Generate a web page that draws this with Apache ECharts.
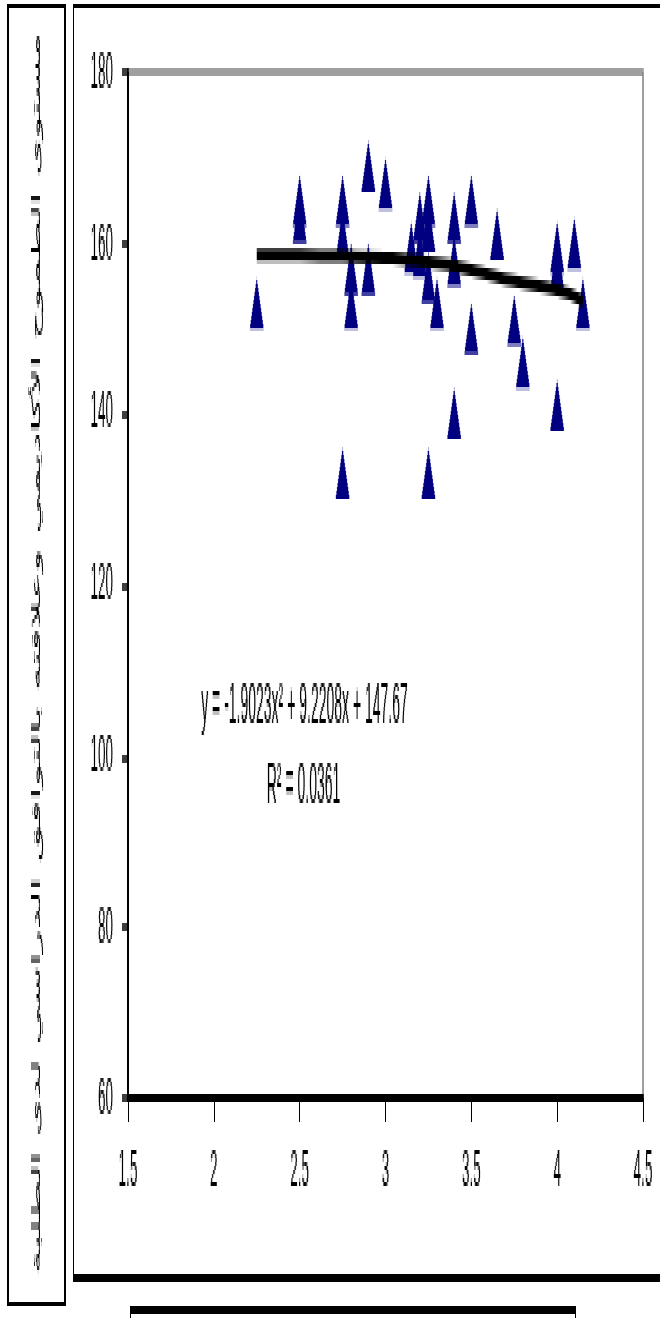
<!DOCTYPE html>
<html>
<head>
<meta charset="utf-8">
<script src="https://cdn.jsdelivr.net/npm/echarts@6/dist/echarts.min.js"></script>
<style>
  html, body { margin: 0; padding: 0; background: #fff; }
  body { width: 660px; height: 1318px; overflow: hidden; }
  #chart { width: 660px; height: 330px; transform: scaleY(3.993939); transform-origin: 0 0; }
  #chart canvas { image-rendering: pixelated; }
</style>
</head>
<body>
<div id="chart"></div>
<script>
// ---- data ----
const pointX = [2.25, 2.5, 2.5, 2.75, 2.75, 2.75, 2.8, 2.8, 2.9, 2.9, 3.0, 3.15, 3.2, 3.2, 3.25, 3.25, 3.25, 3.25, 3.3, 3.4, 3.4, 3.4, 3.5, 3.5, 3.65, 3.75, 3.8, 4.0, 4.0, 4.0, 4.1, 4.15];
const pointY = [153, 165, 163, 165, 161, 133, 157, 153, 169, 157, 167, 159.5, 163, 159, 165, 162, 156, 133, 153, 163, 158, 140, 165, 150, 161, 151, 146, 159.5, 157.5, 141, 160, 153];
const trendX = [2.25, 2.5, 2.75, 3.0, 3.25, 3.5, 3.75, 4.0, 4.15];
const trendY = [158.6, 158.6, 158.5, 158.3, 157.8, 156.9, 155.6, 154.5, 153.3];
const xTicks = [1.5, 2, 2.5, 3, 3.5, 4, 4.5];
const yTicks = [60, 80, 100, 120, 140, 160, 180];
const equationText = 'y = -1.9023x\u00B2 + 9.2208x + 147.67';
const r2Text = 'R\u00B2 = 0.0361';
const yTitle = 'مستوى الطموح الأكاديمي وعلاقته بالتوافق الدراسي لدى الطلبة';

const SY = 1318 / 330; // vertical stretch of the whole picture
const py = v => v / SY; // convert a picture y to canvas y

// fit the rotated title into the length it spans in the reference
const titleFont = 'DejaVu Sans';
const titleSpan = (1274 - 32) / SY;
const mctx = document.createElement('canvas').getContext('2d');
mctx.font = '13px "' + titleFont + '"';
const titleWidth13 = mctx.measureText(yTitle).width || titleSpan;
const titleSize = Math.min(14, 13 * titleSpan / titleWidth13);

const chart = echarts.init(document.getElementById('chart'), null, { renderer: 'canvas' });

// frame pieces as filled rectangles (x1, y1, x2, y2 in canvas units)
function bar(x1, y1, x2, y2) {
  return { type: 'rect', silent: true, shape: { x: x1, y: y1, width: x2 - x1, height: y2 - y1 }, style: { fill: '#000' } };
}

const option = {
  animation: false,
  backgroundColor: '#fff',
  textStyle: { fontFamily: 'Liberation Sans' },
  grid: {
    left: 128, right: 17, top: 18, bottom: 55,
    show: true, borderColor: '#808080', borderWidth: 1.5, backgroundColor: 'transparent'
  },
  xAxis: {
    type: 'value',
    min: xTicks[0], max: xTicks[xTicks.length - 1], interval: xTicks[1] - xTicks[0],
    axisLine: { show: true, onZero: false, lineStyle: { color: '#000', width: 2 } },
    axisTick: { show: true, inside: false, length: 6, lineStyle: { color: '#000', width: 1 } },
    axisLabel: { margin: 11, fontSize: 13.5, color: '#000', fontFamily: 'Liberation Sans' },
    splitLine: { show: false }
  },
  yAxis: {
    type: 'value',
    min: yTicks[0], max: yTicks[yTicks.length - 1], interval: yTicks[1] - yTicks[0],
    axisLine: { show: true, onZero: false, lineStyle: { color: '#000', width: 2 } },
    axisTick: { show: true, inside: false, length: 6, lineStyle: { color: '#000', width: 1.5 } },
    axisLabel: { margin: 15, fontSize: 13.5, color: '#000', fontFamily: 'Liberation Sans', padding: [0, 0, 3, 0] },
    splitLine: { show: false }
  },
  series: [
    {
      type: 'scatter',
      data: pointX.map((x, i) => [x, pointY[i]]),
      symbol: 'triangle',
      symbolSize: [14, 51 / SY],
      itemStyle: { color: '#000080', opacity: 1 },
      z: 2
    },
    {
      type: 'line',
      data: trendX.map((x, i) => [x, trendY[i]]),
      smooth: true,
      showSymbol: false,
      symbol: 'none',
      lineStyle: { color: '#000', width: 3 },
      z: 3
    }
  ],
  graphic: [
    // left title box
    bar(7, 1, 66, 2),
    bar(7, 326, 66, 327),
    bar(7, 1, 9, 327),
    bar(64, 1, 66, 327),
    // main chart box
    bar(73, 1, 660, 2),
    bar(73, 1, 74, 321),
    bar(73, 319, 660, 321),
    // bottom title box (cut off)
    bar(130, 327, 576, 329),
    bar(130, 327, 131, 330),
    bar(575, 327, 576, 330),
    {
      type: 'text', silent: true,
      x: 36.5, y: py(653), rotation: Math.PI / 2,
      style: { text: yTitle, fontSize: titleSize, fontFamily: titleFont, fill: '#000', align: 'center', verticalAlign: 'middle' }
    },
    {
      type: 'text', silent: true,
      x: 304.5, y: py(709),
      style: { text: equationText, fontSize: 14, fontFamily: 'Liberation Sans', fill: '#000', align: 'center', verticalAlign: 'middle' }
    },
    {
      type: 'text', silent: true,
      x: 303.5, y: py(788),
      style: { text: r2Text, fontSize: 14, fontFamily: 'Liberation Sans', fill: '#000', align: 'center', verticalAlign: 'middle' }
    }
  ]
};
chart.setOption(option);
</script>
</body>
</html>
